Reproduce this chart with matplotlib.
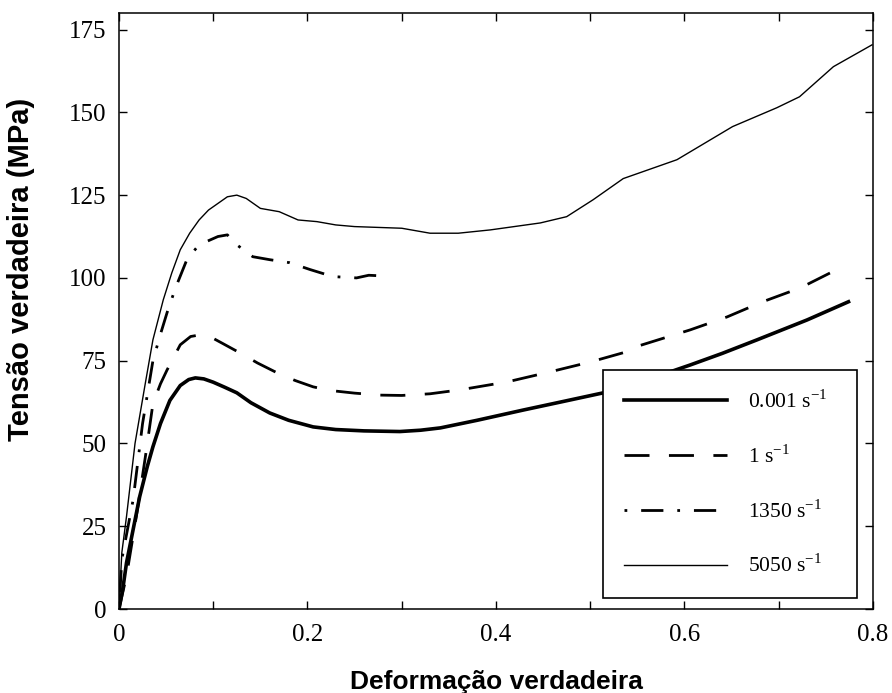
import matplotlib
matplotlib.use("Agg")
import matplotlib.pyplot as plt
from matplotlib.ticker import MultipleLocator

# ---- data ----
x_0001 = [0, 0.004, 0.008, 0.015, 0.022, 0.03, 0.036, 0.044, 0.054, 0.065, 0.074, 0.081,
          0.09, 0.1, 0.112, 0.125, 0.14, 0.16, 0.18, 0.206, 0.23, 0.26, 0.298, 0.32,
          0.341, 0.38, 0.429, 0.47, 0.514, 0.56, 0.606, 0.64, 0.677, 0.73, 0.774]
y_0001 = [0, 6, 14, 24, 34, 43, 49, 56, 63, 67.5, 69.3, 69.8, 69.5, 68.5, 67, 65.3,
          62.3, 59.2, 57, 55, 54.2, 53.8, 53.6, 54, 54.7, 57, 60.1, 62.6, 65.3, 69.2,
          73.7, 77.2, 81.3, 87.3, 92.8]

x_1 = [0, 0.008, 0.019, 0.028, 0.036, 0.044, 0.051, 0.065, 0.076, 0.086, 0.097, 0.11,
       0.128, 0.147, 0.168, 0.187, 0.206, 0.224, 0.25, 0.277, 0.3, 0.33, 0.362, 0.412,
       0.457, 0.5, 0.535, 0.545, 0.606, 0.645, 0.683, 0.723, 0.765]
y_1 = [0, 10, 29, 46, 62, 68, 72.2, 79.8, 82.3, 82.8, 82.2, 80.2, 77.4, 74.3, 71.3,
       69, 67.1, 66, 65.2, 64.6, 64.5, 65, 66.2, 68.6, 71.6, 74.6, 77.4, 78.9, 84.3,
       88.2, 92.8, 97, 103]

x_1350 = [0, 0.003, 0.015, 0.025, 0.036, 0.044, 0.051, 0.06, 0.072, 0.082, 0.093,
          0.105, 0.115, 0.125, 0.142, 0.16, 0.181, 0.203, 0.227, 0.252, 0.265, 0.28]
y_1350 = [0, 15, 33, 56, 75, 83, 89.5, 97, 105.5, 109, 111, 112.5, 113, 110, 106.4,
          105.5, 104.6, 102.5, 100.4, 100, 100.8, 100.6]

x_5050 = [0, 0.003, 0.008, 0.017, 0.028, 0.036, 0.047, 0.056, 0.065, 0.075, 0.085,
          0.095, 0.105, 0.115, 0.125, 0.135, 0.15, 0.17, 0.19, 0.21, 0.23, 0.25, 0.3,
          0.33, 0.36, 0.394, 0.447, 0.475, 0.503, 0.535, 0.56, 0.592, 0.651, 0.698,
          0.722, 0.758, 0.799]
y_5050 = [0, 17, 28, 50, 68.3, 81.3, 93.4, 101.5, 108.5, 113.5, 117.5, 120.5, 122.5,
          124.5, 125, 124, 121, 120, 117.5, 117, 116, 115.5, 115, 113.5, 113.5, 114.5,
          116.6, 118.5, 123.6, 130, 132.5, 135.7, 145.7, 151.4, 154.7, 163.8, 170.4]

labels = ["0.001 s$^{\\mathregular{-1}}$", "1 s$^{\\mathregular{-1}}$",
          "1350 s$^{\\mathregular{-1}}$", "5050 s$^{\\mathregular{-1}}$"]
x_ticks = [0, 0.2, 0.4, 0.6, 0.8]
x_ticklabels = ["0", "0.2", "0.4", "0.6", "0.8"]
y_ticks = [0, 25, 50, 75, 100, 125, 150, 175]

# ---- figure ----
plt.rcParams["font.family"] = ["Liberation Serif", "DejaVu Serif"]
plt.rcParams["mathtext.fontset"] = "custom"
plt.rcParams["mathtext.rm"] = "Liberation Serif"

fig = plt.figure(figsize=(8.92, 6.93), dpi=100)
ax = fig.add_axes([0.1334, 0.1212, 0.8453, 0.8600])

ax.plot(x_0001, y_0001, color="black", lw=2.6, ls="-", label=labels[0])
ax.plot(x_1, y_1, color="black", lw=2.0, ls=(0, (9, 7)), label=labels[1])
ax.plot(x_1350, y_1350, color="black", lw=2.0, ls=(0, (1, 5, 8, 5)), label=labels[2])
ax.plot(x_5050, y_5050, color="black", lw=1.0, ls="-", label=labels[3])

ax.set_xlim(0, 0.8)
ax.set_ylim(0, 180)
ax.set_xticks(x_ticks)
ax.set_xticklabels(x_ticklabels)
ax.xaxis.set_minor_locator(MultipleLocator(0.1))
ax.set_yticks(y_ticks)

ax.tick_params(axis="both", which="both", direction="in", top=True, right=True,
               length=6, width=1.0, labelsize=18, pad=9)
ax.tick_params(axis="x", which="both", pad=11)
for sp in ax.spines.values():
    sp.set_linewidth(1.1)

ax.set_xlabel("Deformação verdadeira", family=["Liberation Sans", "DejaVu Sans"],
              fontweight="bold", fontsize=19)
ax.set_ylabel("Tensão verdadeira (MPa)", family=["Liberation Sans", "DejaVu Sans"],
              fontweight="bold", fontsize=21)
ax.xaxis.set_label_coords(0.5, -0.102)
ax.yaxis.set_label_coords(-0.111, 0.57)

leg = ax.legend(loc="lower left", bbox_to_anchor=(0.642, 0.019, 0.337, 0.397),
                mode="expand", borderaxespad=0,
                fontsize=15.5, frameon=True, fancybox=False, edgecolor="black",
                framealpha=1, handlelength=4.8, handletextpad=1.0, labelspacing=1.5,
                borderpad=0.95)
leg.get_frame().set_linewidth(1.2)

fig.savefig("out.png", dpi=100)
